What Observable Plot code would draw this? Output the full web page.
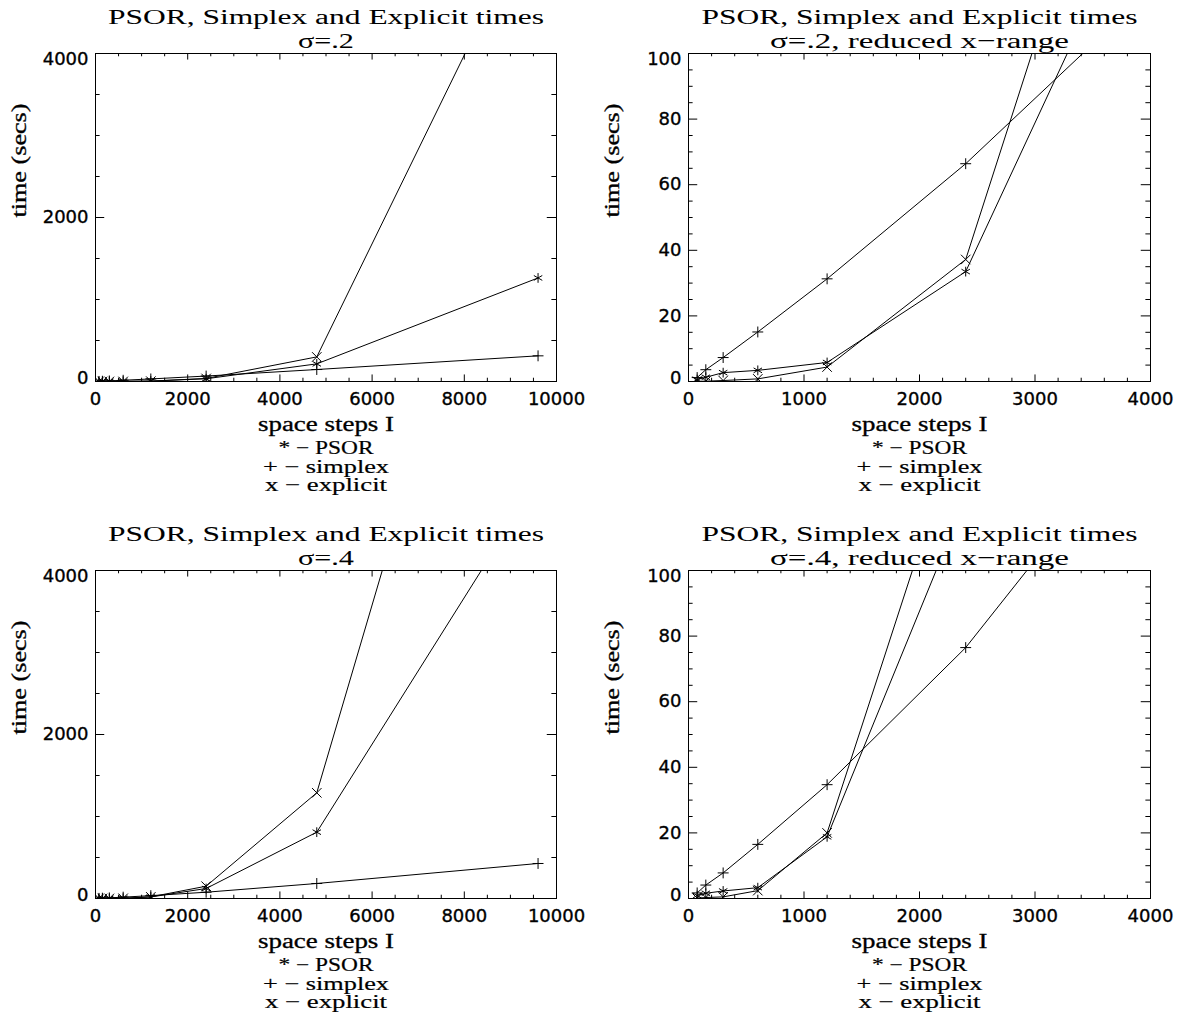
<!DOCTYPE html>
<html>
<head>
<meta charset="utf-8">
<script src="https://cdn.jsdelivr.net/npm/d3@7"></script>
<script src="https://cdn.jsdelivr.net/npm/@observablehq/plot@0.6"></script>
<style>
  html, body { margin: 0; padding: 0; background: #fff; }
  #page { position: relative; width: 1178px; height: 1015px; background: #fff; overflow: hidden; }
  .panel { position: absolute; }
  .panel svg { overflow: visible; }
</style>
</head>
<body>
<div id="page"></div>
<script>
// Number of space steps I used in each run
const spaceSteps = [75, 150, 300, 600, 1200, 2400, 4800, 9600];

// Run times in seconds, sigma = 0.2
const psorSigma2     = [0.6, 1.3, 2.7, 3.4, 5.8, 33.5, 215, 1263];
const simplexSigma2  = [1.2, 3.6, 7.3, 15.1, 31.3, 66.4, 146, 313];
const explicitSigma2 = [0.05, 0.1, 0.3, 0.8, 4.4, 37.2, 300, 5820];

// Run times in seconds, sigma = 0.4
const psorSigma4     = [0.9, 1.6, 2.3, 3.3, 18.8, 122, 809, 5100];
const simplexSigma4  = [1.7, 4.1, 7.8, 16.5, 34.7, 76.5, 183, 427];
const explicitSigma4 = [0.1, 0.3, 0.5, 2.4, 20.0, 150, 1289, 10450];

// Text
const panelTitle = "PSOR, Simplex and Explicit times";
const panelSubtitles = ["σ=.2", "σ=.2, reduced x\u2212range", "σ=.4", "σ=.4, reduced x\u2212range"];
const xAxisTitle = "space steps I";
const yAxisTitle = "time (secs)";
const legendLines = ["* \u2212 PSOR", "+ \u2212 simplex", "x \u2212 explicit"];

// Axis ticks
const xTicksFull = [0, 2000, 4000, 6000, 8000, 10000];
const xTicksReduced = [0, 1000, 2000, 3000, 4000];
const yTicksFull = [0, 2000, 4000];
const yTicksReduced = [0, 20, 40, 60, 80, 100];

// ---- layout and style ----
const cells = [
  {x: 0,   y: 0,   w: 589, h: 507},
  {x: 589, y: 0,   w: 589, h: 507},
  {x: 0,   y: 507, w: 589, h: 508},
  {x: 589, y: 507, w: 589, h: 508}
];
// plot boxes in page coordinates
const boxes = [
  {left: 95,  top: 53,  right: 556,  bottom: 381},
  {left: 688, top: 53,  right: 1150, bottom: 381},
  {left: 95,  top: 570, right: 556,  bottom: 898},
  {left: 688, top: 570, right: 1150, bottom: 898}
];

const serif = "Liberation Serif";
const sans = "DejaVu Sans";
const ink = w => ({fill: "black", stroke: "black", strokeWidth: w, lineAnchor: "middle"});

// widths the lettering is fitted to
const fittedWidths = new Map([
  [panelTitle, 436],
  ["σ=.2", 56], ["σ=.4", 56],
  ["σ=.2, reduced x\u2212range", 299], ["σ=.4, reduced x\u2212range", 299],
  [xAxisTitle, 136],
  [yAxisTitle, 114],
  [legendLines[0], 95], [legendLines[1], 126], [legendLines[2], 122]
]);

const symbolFor = {psor: "asterisk", simplex: "plus", explicit: "times"};
const radiusFor = {psor: 4.6, simplex: 3.6, explicit: 4.4};

function rows(values) {
  return spaceSteps.map((s, i) => ({steps: s, time: values[i]}));
}

const panels = [
  {subtitle: panelSubtitles[0], xDomain: [0, 10000], yDomain: [0, 4000],
   xMajor: xTicksFull, xMinor: 500, yMajor: yTicksFull, yMinor: 500,
   series: {psor: psorSigma2, simplex: simplexSigma2, explicit: explicitSigma2}},
  {subtitle: panelSubtitles[1], xDomain: [0, 4000], yDomain: [0, 100],
   xMajor: xTicksReduced, xMinor: 200, yMajor: yTicksReduced, yMinor: 5,
   series: {psor: psorSigma2, simplex: simplexSigma2, explicit: explicitSigma2}},
  {subtitle: panelSubtitles[2], xDomain: [0, 10000], yDomain: [0, 4000],
   xMajor: xTicksFull, xMinor: 500, yMajor: yTicksFull, yMinor: 500,
   series: {psor: psorSigma4, simplex: simplexSigma4, explicit: explicitSigma4}},
  {subtitle: panelSubtitles[3], xDomain: [0, 4000], yDomain: [0, 100],
   xMajor: xTicksReduced, xMinor: 200, yMajor: yTicksReduced, yMinor: 5,
   series: {psor: psorSigma4, simplex: simplexSigma4, explicit: explicitSigma4}}
];

function minorTicks(domain, step, major) {
  return d3.range(domain[0], domain[1] + step / 2, step).filter(v => !major.some(m => Math.abs(m - v) < 1e-9));
}

function drawPanel(p, cell, box) {
  const marginLeft = box.left - cell.x;
  const marginTop = box.top - cell.y;
  const marginRight = cell.x + cell.w - box.right;
  const marginBottom = cell.y + cell.h - box.bottom;
  const fw = box.right - box.left, fh = box.bottom - box.top;
  const [x0, x1] = p.xDomain, [y0, y1] = p.yDomain;
  const xPerPx = (x1 - x0) / fw, yPerPx = (y1 - y0) / fh;

  // inward tick lengths (px): 2% of the box for major, half that for minor
  const xTickMajor = 0.02 * fh, xTickMinor = 0.01 * fh;
  const yTickMajor = 0.02 * fw, yTickMinor = 0.01 * fw;

  const xMin = minorTicks(p.xDomain, p.xMinor, p.xMajor);
  const yMin = minorTicks(p.yDomain, p.yMinor, p.yMajor);

  const tickMarks = [];
  for (const [ticks, len] of [[p.xMajor, xTickMajor], [xMin, xTickMinor]]) {
    tickMarks.push(Plot.ruleX(ticks, {x: d => d, y1: y0, y2: y0 + len * yPerPx, stroke: "black"}));
    tickMarks.push(Plot.ruleX(ticks, {x: d => d, y1: y1 - len * yPerPx, y2: y1, stroke: "black"}));
  }
  for (const [ticks, len] of [[p.yMajor, yTickMajor], [yMin, yTickMinor]]) {
    tickMarks.push(Plot.ruleY(ticks, {y: d => d, x1: x0, x2: x0 + len * xPerPx, stroke: "black"}));
    tickMarks.push(Plot.ruleY(ticks, {y: d => d, x1: x1 - len * xPerPx, x2: x1, stroke: "black"}));
  }

  const seriesMarks = [];
  for (const key of ["simplex", "psor", "explicit"]) {
    const data = rows(p.series[key]);
    seriesMarks.push(Plot.line(data, {x: "steps", y: "time", stroke: "black", strokeWidth: 1, clip: true}));
    seriesMarks.push(Plot.dot(data, {x: "steps", y: "time", symbol: symbolFor[key], r: radiusFor[key],
      stroke: "black", fill: "none", strokeWidth: 1, clip: true}));
  }

  // end labels of the value axis sit just inside the box
  const yLabelShift = d => d === y1 ? 6 : d === y0 ? -3 : 0;

  const textMarks = [
    Plot.text(p.xMajor, {x: d => d, frameAnchor: "bottom", dy: 18, text: d => String(d),
      fontFamily: sans, fontSize: 18, ...ink(0.35)}),
    ...p.yMajor.map(v => Plot.text([v], {y: d => d, frameAnchor: "left", dx: -7, dy: yLabelShift(v),
      textAnchor: "end", text: d => String(d), fontFamily: sans, fontSize: 18, ...ink(0.35)})),
    Plot.text([panelTitle], {frameAnchor: "top", dy: -37, text: d => d, fontFamily: serif, fontSize: 22, ...ink(0.05)}),
    Plot.text([p.subtitle], {frameAnchor: "top", dy: -13, text: d => d, fontFamily: serif, fontSize: 22, ...ink(0.05)}),
    Plot.text([xAxisTitle], {frameAnchor: "bottom", dy: 43, text: d => d, fontFamily: serif, fontSize: 20, ...ink(0.3)}),
    Plot.text([yAxisTitle], {frameAnchor: "left", dx: -76, rotate: -90, text: d => d, fontFamily: serif, fontSize: 20, ...ink(0.3)}),
    ...legendLines.map((line, i) => Plot.text([line], {frameAnchor: "bottom", dy: 67 + 18.5 * i, text: d => d,
      fontFamily: serif, fontSize: 18.5, ...ink(0.2)}))
  ];

  const svg = Plot.plot({
    width: cell.w,
    height: cell.h,
    marginLeft, marginRight, marginTop, marginBottom,
    x: {domain: p.xDomain, axis: null},
    y: {domain: p.yDomain, axis: null},
    style: {background: "white", color: "black", overflow: "visible"},
    marks: [
      ...seriesMarks,
      ...tickMarks,
      Plot.frame({stroke: "black", strokeWidth: 1}),
      ...textMarks
    ]
  });

  // stretch the wide lettering to its set length
  d3.select(svg).selectAll("text").each(function () {
    const w = fittedWidths.get(this.textContent);
    if (w) d3.select(this).attr("textLength", w).attr("lengthAdjust", "spacingAndGlyphs");
  });

  const holder = document.createElement("div");
  holder.className = "panel";
  holder.style.left = cell.x + "px";
  holder.style.top = cell.y + "px";
  holder.appendChild(svg);
  page.appendChild(holder);
}

panels.forEach((p, i) => drawPanel(p, cells[i], boxes[i]));
</script>
</body>
</html>
